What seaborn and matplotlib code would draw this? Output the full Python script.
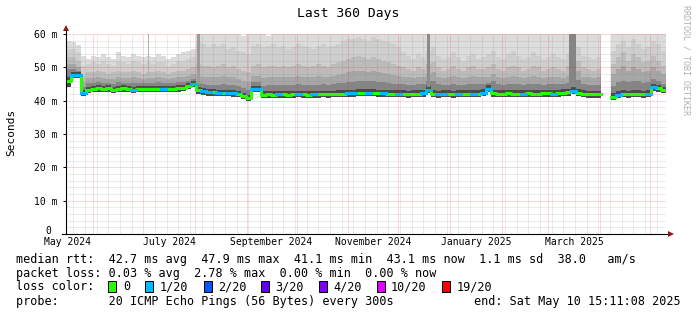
import numpy as np
import pandas as pd
import matplotlib
matplotlib.use("Agg")
import matplotlib.pyplot as plt
import seaborn as sns
from matplotlib.patches import Rectangle
from datetime import datetime, timedelta

nan = float("nan")

# ---------------- data (3-day columns, 360 days) ----------------
median = [
    46.0, 47.7, 47.7, 42.3, 43.2, 43.6, 43.7, 43.6, 43.7, 43.2,
    43.6, 43.7, 43.6, 43.3, 43.6, 43.6, 43.6, 43.5, 43.6, 43.6,
    43.5, 43.6, 43.7, 43.8, 44.4, 45.0, 43.1, 42.8, 42.5, 42.5,
    42.4, 42.4, 42.3, 42.2, 42.0, 41.5, 40.9, 43.6, 43.6, 41.8,
    41.9, 41.8, 41.9, 41.9, 41.8, 41.9, 42.0, 41.9, 41.8, 41.9,
    41.9, 42.0, 41.9, 42.0, 42.1, 42.1, 42.2, 42.2, 42.3, 42.3,
    42.4, 42.3, 42.2, 42.2, 42.1, 42.0, 42.0, 42.0, 41.9, 42.0,
    42.0, 42.2, 43.3, 42.0, 41.9, 42.0, 42.1, 41.9, 42.0, 42.0,
    42.1, 42.0, 42.1, 42.3, 43.6, 42.2, 42.1, 42.1, 42.2, 42.1,
    42.0, 42.1, 42.2, 42.1, 42.1, 42.2, 42.2, 42.1, 42.2, 42.3,
    42.5, 42.9, 42.3, 42.0, 41.9, 41.9, 41.9, nan, nan, 41.2,
    41.7, 42.0, 41.9, 42.0, 42.0, 41.9, 42.1, 44.0, 43.7, 43.2,
]

loss = [
    0, 1, 1, 1, 0, 0, 0, 0, 0, 0,
    0, 0, 0, 1, 0, 0, 0, 0, 0, 1,
    0, 0, 0, 0, 0, 1, 0, 1, 1, 0,
    1, 0, 1, 1, 0, 0, 0, 1, 1, 0,
    0, 0, 1, 0, 0, 0, 1, 0, 0, 1,
    0, 0, 0, 0, 0, 0, 1, 1, 0, 0,
    1, 0, 0, 1, 0, 0, 1, 0, 0, 0,
    0, 1, 1, 0, 1, 1, 0, 0, 1, 0,
    0, 1, 0, 1, 1, 0, 0, 0, 0, 0,
    0, 1, 0, 0, 0, 0, 0, 1, 0, 0,
    0, 1, 0, 0, 0, 0, 0, 0, 0, 0,
    1, 0, 0, 0, 0, 0, 1, 1, 0, 0,
]

smoke_min = [
    44.0, 46.7, 46.7, 41.3, 42.2, 42.6, 42.7, 42.6, 42.7, 42.2,
    42.6, 42.7, 42.6, 42.3, 42.6, 42.6, 42.6, 42.5, 42.6, 42.6,
    42.5, 42.6, 42.7, 42.8, 43.4, 44.0, 42.1, 41.8, 41.5, 41.5,
    41.4, 41.4, 41.3, 41.2, 41.0, 40.5, 39.9, 42.6, 42.6, 40.8,
    40.9, 40.8, 40.9, 40.9, 40.8, 40.9, 41.0, 40.9, 40.8, 40.9,
    40.9, 41.0, 40.9, 41.0, 41.1, 41.1, 41.2, 41.2, 41.3, 41.3,
    41.4, 41.3, 41.2, 41.2, 41.1, 41.0, 41.0, 41.0, 40.9, 41.0,
    41.0, 41.2, 42.3, 41.0, 40.9, 41.0, 41.1, 40.9, 41.0, 41.0,
    41.1, 41.0, 41.1, 41.3, 42.6, 41.2, 41.1, 41.1, 41.2, 41.1,
    41.0, 41.1, 41.2, 41.1, 41.1, 41.2, 41.2, 41.1, 41.2, 41.3,
    41.5, 41.9, 41.3, 41.0, 40.9, 40.9, 40.9, nan, nan, 40.2,
    40.7, 41.0, 40.9, 41.0, 41.0, 40.9, 41.1, 43.0, 42.7, 42.2,
]

smoke_max = [
    58.0, 57.6, 56.8, 53.5, 52.5, 53.5, 53.0, 54.0, 53.0, 52.5,
    54.5, 53.5, 53.0, 54.0, 53.5, 53.0, 53.5, 53.0, 54.0, 53.5,
    52.5, 53.0, 54.0, 54.5, 55.0, 55.5, 61.0, 61.0, 61.0, 61.0,
    61.0, 61.0, 61.0, 61.0, 61.0, 59.3, 61.0, 61.0, 61.0, 61.0,
    59.5, 61.0, 61.0, 61.0, 61.0, 61.0, 61.0, 61.0, 61.0, 61.0,
    61.0, 61.0, 61.0, 61.0, 61.0, 61.0, 61.0, 61.0, 61.0, 61.0,
    61.0, 61.0, 61.0, 61.0, 61.0, 61.0, 61.0, 61.0, 61.0, 61.0,
    61.0, 61.0, 61.0, 61.0, 61.0, 61.0, 61.0, 61.0, 61.0, 61.0,
    61.0, 61.0, 61.0, 61.0, 61.0, 61.0, 61.0, 61.0, 61.0, 61.0,
    61.0, 61.0, 61.0, 61.0, 61.0, 61.0, 61.0, 61.0, 61.0, 61.0,
    61.0, 61.0, 61.0, 61.0, 61.0, 61.0, 61.0, nan, nan, 61.0,
    61.0, 61.0, 61.0, 61.0, 61.0, 61.0, 61.0, 61.0, 61.0, 61.0,
]

smoke_q2 = [
    55.5, 55.5, 54.5, 50.5, 51.0, 51.5, 51.0, 52.0, 51.0, 50.5,
    52.0, 51.5, 51.0, 52.0, 51.5, 51.0, 51.5, 51.0, 51.5, 51.5,
    50.5, 51.0, 52.0, 52.0, 52.5, 53.0, 57.5, 57.0, 56.0, 57.0,
    56.5, 57.0, 55.5, 56.0, 55.0, 54.5, 54.0, 56.5, 57.0, 56.0,
    56.5, 57.0, 56.0, 56.5, 55.5, 56.0, 57.0, 56.5, 56.0, 55.5,
    56.5, 57.0, 56.0, 56.5, 57.0, 58.0, 58.5, 58.5, 59.0, 58.5,
    58.0, 59.0, 58.5, 58.0, 57.5, 57.0, 56.0, 54.5, 53.5, 52.5,
    54.0, 53.0, 55.0, 56.0, 53.5, 52.5, 53.0, 54.5, 53.0, 52.0,
    53.5, 54.0, 52.5, 53.0, 54.0, 55.0, 53.0, 52.5, 54.0, 55.0,
    53.5, 52.5, 53.0, 54.5, 53.5, 52.5, 53.0, 54.0, 53.0, 52.5,
    54.0, 55.5, 56.0, 53.5, 53.0, 52.5, 53.0, nan, nan, 55.0,
    57.0, 58.0, 56.0, 58.5, 57.0, 55.5, 56.0, 58.0, 57.0, 55.0,
]

smoke_q3 = [
    53.0, 53.0, 52.0, 47.5, 48.5, 48.5, 49.0, 48.5, 48.0, 48.5,
    49.0, 48.5, 48.5, 49.0, 48.5, 48.0, 48.5, 48.5, 49.0, 48.5,
    48.0, 48.5, 49.0, 49.0, 49.5, 50.0, 51.0, 50.5, 50.5, 50.0,
    50.5, 51.0, 50.0, 50.5, 49.5, 49.0, 48.5, 50.5, 51.0, 50.0,
    50.5, 50.5, 50.0, 50.5, 50.0, 50.5, 51.0, 50.5, 50.0, 50.5,
    51.0, 50.5, 50.0, 51.0, 51.5, 52.0, 52.5, 53.0, 53.5, 53.0,
    52.5, 53.0, 52.5, 52.0, 51.5, 51.0, 50.5, 50.0, 49.5, 49.0,
    50.0, 49.5, 51.0, 51.5, 50.0, 49.0, 49.5, 50.5, 49.5, 49.0,
    50.0, 50.5, 49.5, 49.5, 50.0, 51.0, 49.5, 49.0, 50.0, 50.5,
    50.0, 49.0, 49.5, 50.5, 50.0, 49.0, 49.5, 50.0, 49.5, 49.0,
    50.5, 51.5, 52.0, 50.0, 49.5, 49.0, 49.5, nan, nan, 51.0,
    53.0, 54.5, 52.0, 54.0, 53.0, 51.5, 52.0, 53.5, 52.0, 50.5,
]

smoke_q4 = [
    51.0, 51.0, 50.0, 45.5, 46.8, 46.8, 47.0, 46.8, 46.5, 46.5,
    47.0, 46.8, 46.8, 47.0, 46.8, 46.5, 46.8, 46.8, 47.0, 46.8,
    46.5, 46.8, 47.0, 47.2, 47.5, 48.0, 47.5, 47.2, 47.0, 47.0,
    47.2, 47.5, 47.0, 47.0, 46.5, 46.0, 45.5, 47.5, 47.5, 46.8,
    47.0, 47.2, 47.0, 47.2, 47.0, 47.2, 47.5, 47.2, 47.0, 47.2,
    47.5, 47.2, 47.0, 47.5, 47.8, 48.0, 48.5, 48.8, 49.0, 48.8,
    48.5, 48.8, 48.5, 48.2, 48.0, 47.8, 47.5, 47.2, 47.0, 46.8,
    47.2, 47.0, 48.0, 48.5, 47.2, 46.8, 47.0, 47.5, 47.0, 46.8,
    47.2, 47.5, 47.0, 47.0, 47.2, 48.0, 47.2, 46.8, 47.2, 47.5,
    47.2, 46.8, 47.0, 47.5, 47.2, 46.8, 47.0, 47.2, 47.0, 46.8,
    47.5, 48.5, 49.0, 47.2, 47.0, 46.8, 47.0, nan, nan, 48.0,
    49.5, 50.5, 49.0, 50.0, 49.5, 48.5, 49.0, 50.0, 49.0, 48.0,
]

smoke_q5 = [
    49.5, 49.5, 49.0, 44.0, 45.3, 45.4, 45.5, 45.4, 45.3, 45.0,
    45.5, 45.4, 45.4, 45.2, 45.4, 45.3, 45.4, 45.3, 45.5, 45.4,
    45.2, 45.4, 45.5, 45.6, 46.0, 46.5, 45.3, 45.0, 44.8, 44.8,
    44.8, 45.0, 44.7, 44.6, 44.3, 43.8, 43.2, 45.5, 45.5, 44.5,
    44.7, 44.6, 44.7, 44.8, 44.6, 44.7, 44.9, 44.8, 44.6, 44.7,
    44.8, 44.9, 44.8, 45.0, 45.2, 45.3, 45.5, 45.6, 45.8, 45.8,
    45.9, 45.8, 45.6, 45.5, 45.3, 45.1, 45.0, 45.0, 44.8, 44.8,
    45.0, 45.0, 45.8, 46.0, 44.9, 44.7, 44.8, 45.1, 44.8, 44.8,
    45.0, 45.1, 44.9, 45.0, 45.2, 46.0, 45.0, 44.8, 44.9, 45.1,
    45.0, 44.8, 44.9, 45.1, 45.0, 44.8, 45.0, 45.1, 45.0, 45.0,
    45.3, 45.8, 46.2, 45.0, 44.8, 44.7, 44.7, nan, nan, 44.5,
    45.5, 46.0, 45.5, 46.0, 45.8, 45.3, 45.5, 46.5, 46.0, 45.0,
]

smoke_q6 = [
    47.0, 48.5, 48.5, 43.2, 44.2, 44.5, 44.6, 44.5, 44.6, 44.1,
    44.5, 44.6, 44.5, 44.2, 44.5, 44.5, 44.5, 44.4, 44.5, 44.5,
    44.4, 44.5, 44.6, 44.7, 45.2, 45.8, 44.0, 43.7, 43.4, 43.4,
    43.3, 43.3, 43.2, 43.1, 42.9, 42.4, 41.8, 44.5, 44.5, 42.8,
    42.9, 42.8, 42.9, 42.9, 42.8, 42.9, 43.0, 42.9, 42.8, 42.9,
    42.9, 43.0, 42.9, 43.0, 43.1, 43.1, 43.3, 43.3, 43.4, 43.4,
    43.5, 43.4, 43.3, 43.3, 43.2, 43.1, 43.1, 43.1, 43.0, 43.1,
    43.1, 43.3, 44.3, 43.2, 43.0, 43.1, 43.2, 43.0, 43.1, 43.1,
    43.2, 43.1, 43.2, 43.4, 44.6, 43.3, 43.2, 43.2, 43.3, 43.2,
    43.1, 43.2, 43.3, 43.2, 43.2, 43.3, 43.3, 43.2, 43.3, 43.4,
    43.6, 44.0, 43.4, 43.1, 43.0, 43.0, 43.0, nan, nan, 42.3,
    42.8, 43.1, 43.0, 43.1, 43.1, 43.0, 43.2, 45.0, 44.7, 44.2,
]

# narrow high-latency streaks (day offset, width in days, low, high)
spike_day = [48.9, 78.3, 216.6, 301.8]
spike_width = [0.9, 1.8, 1.8, 4.2]
spike_low = [47.0, 45.0, 44.0, 44.0]
spike_high = [60.0, 60.0, 60.0, 60.0]

month_labels = ["May 2024", "July 2024", "September 2024", "November 2024",
                "January 2025", "March 2025"]
y_values = [0, 10, 20, 30, 40, 50, 60]
y_labels = ["", "10 m", "20 m", "30 m", "40 m", "50 m", "60 m"]
zero_label = "0"

loss_names = ["0", "1/20", "2/20", "3/20", "4/20", "10/20", "19/20"]
loss_counts = [0, 1, 2, 3, 4, 10, 19]
loss_hex = ["#26ff00", "#00b8ff", "#0059ff", "#5e00ff", "#7e00ff", "#dd00ff", "#ff0000"]

title = "Last 360 Days"
line_median = "median rtt:  42.7 ms avg  47.9 ms max  41.1 ms min  43.1 ms now  1.1 ms sd  38.0   am/s"
line_loss = "packet loss: 0.03 % avg  2.78 % max  0.00 % min  0.00 % now"
line_color = "loss color:"
line_probe = "probe:       20 ICMP Echo Pings (56 Bytes) every 300s"
line_end = "end: Sat May 10 15:11:08 2025"

# ---------------- figure ----------------
W, H = 697, 315
plt.rcParams["font.family"] = ["DejaVu Sans Mono"]
fig = plt.figure(figsize=(W / 100, H / 100), dpi=100)
ax = fig.add_axes([66 / W, (H - 234) / H, 600 / W, 200 / H])
ax.set_xlim(0, 360)
ax.set_ylim(0, 60)

ncol = len(median)
col_days = 360 / ncol
edges = np.arange(ncol + 1) * col_days
xs = np.column_stack([edges[:-1], edges[1:]]).ravel()


def dup(v):
    return np.repeat(np.asarray(v, dtype=float), 2)


# smoke
layers = [smoke_max, smoke_q2, smoke_q3, smoke_q4, smoke_q5, smoke_q6]
shades = ["#dcdcdc", "#cecece", "#bcbcbc", "#a6a6a6", "#858585", "#4a4a4a"]
for top, c in zip(layers, shades):
    ax.fill_between(xs, dup(smoke_min), dup(top), color=c, lw=0, zorder=1,
                    antialiased=False)
spike_cols = ["#b2b2b2", "#9c9c9c", "#8c8c8c", "#858585"]
for d, w, lo, hi, c in zip(spike_day, spike_width, spike_low, spike_high, spike_cols):
    ax.bar(d, hi - lo, width=w, bottom=lo, color=c, lw=0, zorder=1.5, align="edge")

# grid
start = datetime(2024, 5, 15, 15, 11, 8)
end = start + timedelta(days=360)


def off(t):
    return (t - start).total_seconds() / 86400.0


month_starts = []
y, m = 2024, 6
while True:
    t = datetime(y, m, 1)
    if t > end:
        break
    month_starts.append(off(t))
    m += 1
    if m > 12:
        m, y = 1, y + 1
week_lines = []
t = datetime(2024, 5, 20)
while t < end:
    week_lines.append(off(t))
    t += timedelta(days=7)

dot = (0, (1, 1))
for d in week_lines:
    if min(abs(d - ms) for ms in month_starts) > 0.8:
        ax.axvline(d, color="#808080", alpha=0.3, lw=0.72, ls=dot, zorder=2)
for yy in range(2, 60, 2):
    if yy % 10:
        ax.axhline(yy, color="#808080", alpha=0.3, lw=0.72, ls=dot, zorder=2)
for d in month_starts:
    ax.axvline(d, color="#ff0000", alpha=0.3, lw=0.72, ls=dot, zorder=2.1)
for yy in range(10, 61, 10):
    ax.axhline(yy, color="#ff0000", alpha=0.3, lw=0.72, ls=dot, zorder=2.1)

# median line (seaborn)
seg = np.cumsum(np.isnan(np.asarray(median, dtype=float)))
dfm = pd.DataFrame({"day": xs, "rtt": dup(median), "seg": np.repeat(seg, 2)}).dropna()
sns.lineplot(data=dfm, x="day", y="rtt", units="seg", estimator=None, sort=False,
             color=loss_hex[0], lw=2.2, ax=ax, legend=False, zorder=3)

lev = {c: n for c, n in zip(loss_counts, loss_names)}
rows = []
for j, (v, l) in enumerate(zip(median, loss)):
    if l > 0 and not np.isnan(v):
        rows.append({"day": edges[j], "rtt": v, "col": j, "loss": lev[l]})
        rows.append({"day": edges[j + 1], "rtt": v, "col": j, "loss": lev[l]})
dfl = pd.DataFrame(rows)
sns.lineplot(data=dfl, x="day", y="rtt", units="col", hue="loss", estimator=None,
             sort=False, palette=dict(zip(loss_names, loss_hex)), lw=2.2, ax=ax,
             legend=False, zorder=3.1)

# axes styling
for s in ax.spines.values():
    s.set_visible(False)
ax.set_xlabel("")
ax.set_ylabel("")
ax.set_yticks(y_values, y_labels, fontsize=7)
ax.tick_params(axis="y", length=2.2, width=0.72, pad=3.6, color="black")
mids = []
for lab in month_labels:
    t0 = datetime.strptime(lab, "%B %Y")
    t1 = (t0 + timedelta(days=32)).replace(day=1)
    mids.append(off(t0 + (t1 - t0) / 2))
ax.set_xticks(mids, month_labels, fontsize=7)
ax.tick_params(axis="x", length=0, pad=2.4)
fig.text(45 / W, 1 - 231 / H, zero_label, ha="left", va="center", fontsize=7)

ax.plot([0, 0], [0, 61.2], color="black", lw=0.8, clip_on=False, zorder=5)
ax.plot([-2.4, 361.8], [0, 0], color="black", lw=0.8, clip_on=False, zorder=5)
ax.plot([0], [61.9], marker="^", ms=4.5, color="#8b1a1a", clip_on=False, zorder=6, mew=0)
ax.plot([363.0], [0], marker=">", ms=4.5, color="#8b1a1a", clip_on=False, zorder=6, mew=0)

# texts
fig.text(348 / W, 1 - 13.5 / H, title, ha="center", va="center", fontsize=9.4)
fig.text(11 / W, 1 - 132 / H, "Seconds", rotation=90, ha="center", va="center", fontsize=8)
fig.text(686 / W, 1 - 60 / H, "RRDTOOL / TOBI OETIKER", rotation=270, ha="center",
         va="center", fontsize=6, color="#b0b0b0")

fs = 8.5
fig.text(16 / W, 1 - 263 / H, line_median, ha="left", va="baseline", fontsize=fs)
fig.text(16 / W, 1 - 276.5 / H, line_loss, ha="left", va="baseline", fontsize=fs)
fig.text(16 / W, 1 - 290.5 / H, line_color, ha="left", va="baseline", fontsize=fs)
box_x = [108, 145.3, 203.6, 261.3, 319, 377, 442]
lab_x = [123.6, 160, 217.8, 275.6, 333, 391, 456.4]
for name, c, bx, lx in zip(loss_names, loss_hex, box_x, lab_x):
    fig.add_artist(Rectangle((bx / W, 1 - 292 / H), 8 / W, 11 / H, transform=fig.transFigure,
                             fc=c, ec="black", lw=0.72))
    fig.text(lx / W, 1 - 290.5 / H, name, ha="left", va="baseline", fontsize=fs)
fig.text(16 / W, 1 - 305 / H, line_probe, ha="left", va="baseline", fontsize=fs)
fig.text(681 / W, 1 - 305 / H, line_end, ha="right", va="baseline", fontsize=fs)

fig.savefig("out.png", dpi=100)
